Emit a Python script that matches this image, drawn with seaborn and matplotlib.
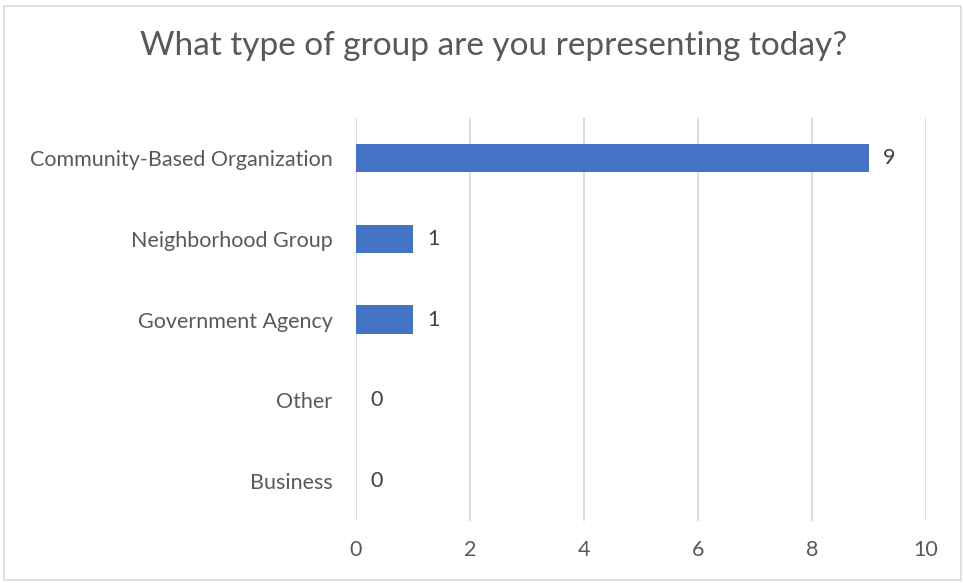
import matplotlib
matplotlib.use("Agg")
import matplotlib.pyplot as plt
import seaborn as sns
import pandas as pd
from matplotlib.patches import Rectangle

categories = ["Community-Based Organization", "Neighborhood Group", "Government Agency", "Other", "Business"]
counts = [9, 1, 1, 0, 0]
x_ticks = [0, 2, 4, 6, 8, 10]

sns.set_theme(style="white")
plt.rcParams['font.family'] = ['Lato', 'DejaVu Sans']

df = pd.DataFrame({"category": categories, "count": counts})

fig = plt.figure(figsize=(9.63, 5.83), dpi=100)
ax = fig.add_axes([356/963, 1-521/583, (926-356)/963, (521-118)/583])

sns.barplot(data=df, y="category", x="count", orient="h", color="#4472C4",
            width=0.35, saturation=1, linewidth=0, ax=ax, zorder=3)

ax.set_xlim(0, 10)
ax.set_ylim(4.5, -0.5)
ax.set_xticks(x_ticks)
ax.set_xticklabels([str(t) for t in x_ticks])
ax.xaxis.grid(True, color="#D9D9D9", linewidth=1.3, zorder=0)
ax.yaxis.grid(False)
for s in ax.spines.values():
    s.set_visible(False)
ax.set_xlabel("")
ax.set_ylabel("")
ax.tick_params(axis="both", length=0, labelsize=15.5, colors="#595959")
ax.tick_params(axis="x", pad=14)
ax.tick_params(axis="y", pad=17)

for i, v in enumerate(counts):
    ax.annotate(str(v), xy=(v, i), xytext=(10, 0), textcoords="offset points",
                va="center", ha="left", fontsize=15.5, color="#404040")

fig.text(493.5/963, 1-46/583, "What type of group are you representing today?",
         ha="center", va="center", fontsize=24, color="#595959")

fig.patches.append(Rectangle((4/963, 3/583), 957/963, 574/583, transform=fig.transFigure,
                             fill=False, edgecolor="#D9D9D9", linewidth=1.2))

fig.savefig("out.png", dpi=100)
